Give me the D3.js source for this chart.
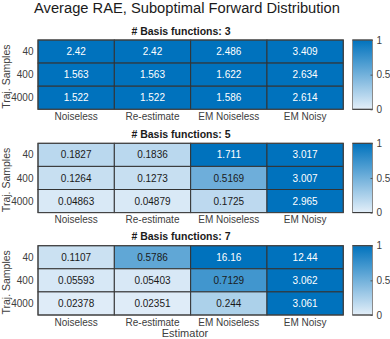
<!DOCTYPE html>
<html>
<head>
<meta charset="utf-8">
<script src="https://cdn.jsdelivr.net/npm/d3@7"></script>
<style>
  html, body { margin: 0; padding: 0; background: #fff; }
  svg { display: block; font-family: "Liberation Sans", Arial, Helvetica, sans-serif; }
</style>
</head>
<body>
<svg id="chart" width="390" height="339"></svg>
<script>
// ---- data ----
const estimators = ["Noiseless", "Re-estimate", "EM Noiseless", "EM Noisy"];
const trajSamples = ["40", "400", "4000"];
const basisCounts = [3, 5, 7];
const values3 = [
  [2.42, 2.42, 2.486, 3.409],
  [1.563, 1.563, 1.622, 2.634],
  [1.522, 1.522, 1.586, 2.614]
];
const values5 = [
  [0.1827, 0.1836, 1.711, 3.017],
  [0.1264, 0.1273, 0.5169, 3.007],
  [0.04863, 0.04879, 0.1725, 2.965]
];
const values7 = [
  [0.1107, 0.5786, 16.16, 12.44],
  [0.05593, 0.05403, 0.7129, 3.062],
  [0.02378, 0.02351, 0.244, 3.061]
];
const colorTicks = [0, 0.5, 1];
const panels = [values3, values5, values7];

// ---- layout ----
const svg = d3.select("#chart");
const left = 38, right = 343.3;
const tops = [40, 143.3, 245.7];
const ph = 69.3;
const cbX = 352.5, cbW = 20;

const color = d3.scaleLinear().domain([0, 1])
  .range(["rgb(228,239,249)", "rgb(0,114,189)"]).clamp(true);

const defs = svg.append("defs");
const grad = defs.append("linearGradient").attr("id", "cbgrad")
  .attr("x1", 0).attr("y1", 1).attr("x2", 0).attr("y2", 0);
d3.range(0, 1.0001, 0.1).forEach(t => {
  grad.append("stop").attr("offset", t).attr("stop-color", color(t));
});

svg.append("text")
  .attr("x", 187).attr("y", 13)
  .attr("text-anchor", "middle")
  .attr("font-size", 14.7)
  .attr("fill", "#1a1a1a")
  .text("Average RAE, Suboptimal Forward Distribution");

const fmt = v => d3.format(".4")(v).replace(/\.?0+$/, m => m.startsWith(".") ? "" : m);

panels.forEach((vals, pi) => {
  const top = tops[pi];
  const g = svg.append("g");
  const x = d3.scaleBand().domain(estimators).range([left, right]);
  const y = d3.scaleBand().domain(trajSamples).range([top, top + ph]);

  const cells = [];
  vals.forEach((row, ri) => row.forEach((v, ci) => cells.push({ r: trajSamples[ri], c: estimators[ci], v })));

  g.selectAll("rect.cell").data(cells).enter().append("rect")
    .attr("class", "cell")
    .attr("x", d => x(d.c)).attr("y", d => y(d.r))
    .attr("width", x.bandwidth()).attr("height", y.bandwidth())
    .attr("fill", d => color(d.v))
    .attr("stroke", "#333").attr("stroke-width", 1);

  g.selectAll("text.val").data(cells).enter().append("text")
    .attr("class", "val")
    .attr("x", d => x(d.c) + x.bandwidth() / 2)
    .attr("y", d => y(d.r) + y.bandwidth() / 2 + 3.6)
    .attr("text-anchor", "middle")
    .attr("font-size", 10)
    .attr("fill", d => d.v >= 0.9 ? "#ffffff" : "#1a1a1a")
    .text(d => fmt(d.v));

  g.append("rect")
    .attr("x", left).attr("y", top).attr("width", right - left).attr("height", ph)
    .attr("fill", "none").attr("stroke", "#444").attr("stroke-width", 1);

  // title
  g.append("text")
    .attr("x", 181).attr("y", top - 5.5)
    .attr("text-anchor", "middle")
    .attr("font-size", 10.5).attr("font-weight", "bold")
    .attr("fill", "#1a1a1a")
    .text("# Basis functions: " + basisCounts[pi]);

  // y tick labels
  g.selectAll("text.yt").data(trajSamples).enter().append("text")
    .attr("class", "yt")
    .attr("x", left - 4.5)
    .attr("y", d => y(d) + y.bandwidth() / 2 + 3.6)
    .attr("text-anchor", "end")
    .attr("font-size", 10).attr("fill", "#404040")
    .text(d => d);

  // x tick labels
  g.selectAll("text.xt").data(estimators).enter().append("text")
    .attr("class", "xt")
    .attr("x", d => x(d) + x.bandwidth() / 2)
    .attr("y", top + ph + 10.5)
    .attr("text-anchor", "middle")
    .attr("font-size", 10).attr("fill", "#404040")
    .text(d => d);

  // y label
  g.append("text")
    .attr("transform", `translate(${9.5},${top + ph / 2 + 2})rotate(-90)`)
    .attr("text-anchor", "middle")
    .attr("font-size", 10.5).attr("fill", "#404040")
    .text("Traj. Samples");

  // colorbar
  const cy = d3.scaleLinear().domain([0, 1]).range([top + ph, top]);
  g.append("rect")
    .attr("x", cbX).attr("y", top).attr("width", cbW).attr("height", ph)
    .attr("fill", "url(#cbgrad)")
    .attr("stroke", "#8a8a8a").attr("stroke-width", 1);
  g.append("line").attr("x1", cbX).attr("x2", cbX + cbW).attr("y1", top).attr("y2", top)
    .attr("stroke", "#333").attr("stroke-width", 1);
  g.append("line").attr("x1", cbX).attr("x2", cbX + cbW).attr("y1", top + ph).attr("y2", top + ph)
    .attr("stroke", "#333").attr("stroke-width", 1);
  const ax = g.append("g")
    .attr("transform", `translate(${cbX + cbW},0)`)
    .call(d3.axisRight(cy).tickValues(colorTicks).tickSize(-2).tickPadding(4).tickFormat(d3.format("")));
  ax.select(".domain").remove();
  ax.selectAll("line").attr("stroke", "#555");
  ax.selectAll("text").attr("font-size", 10).attr("fill", "#404040")
    .attr("font-family", "Liberation Sans, Arial, sans-serif");
});

svg.append("text")
  .attr("x", 185).attr("y", 336.5)
  .attr("text-anchor", "middle")
  .attr("font-size", 11).attr("fill", "#404040")
  .text("Estimator");
</script>
</body>
</html>
